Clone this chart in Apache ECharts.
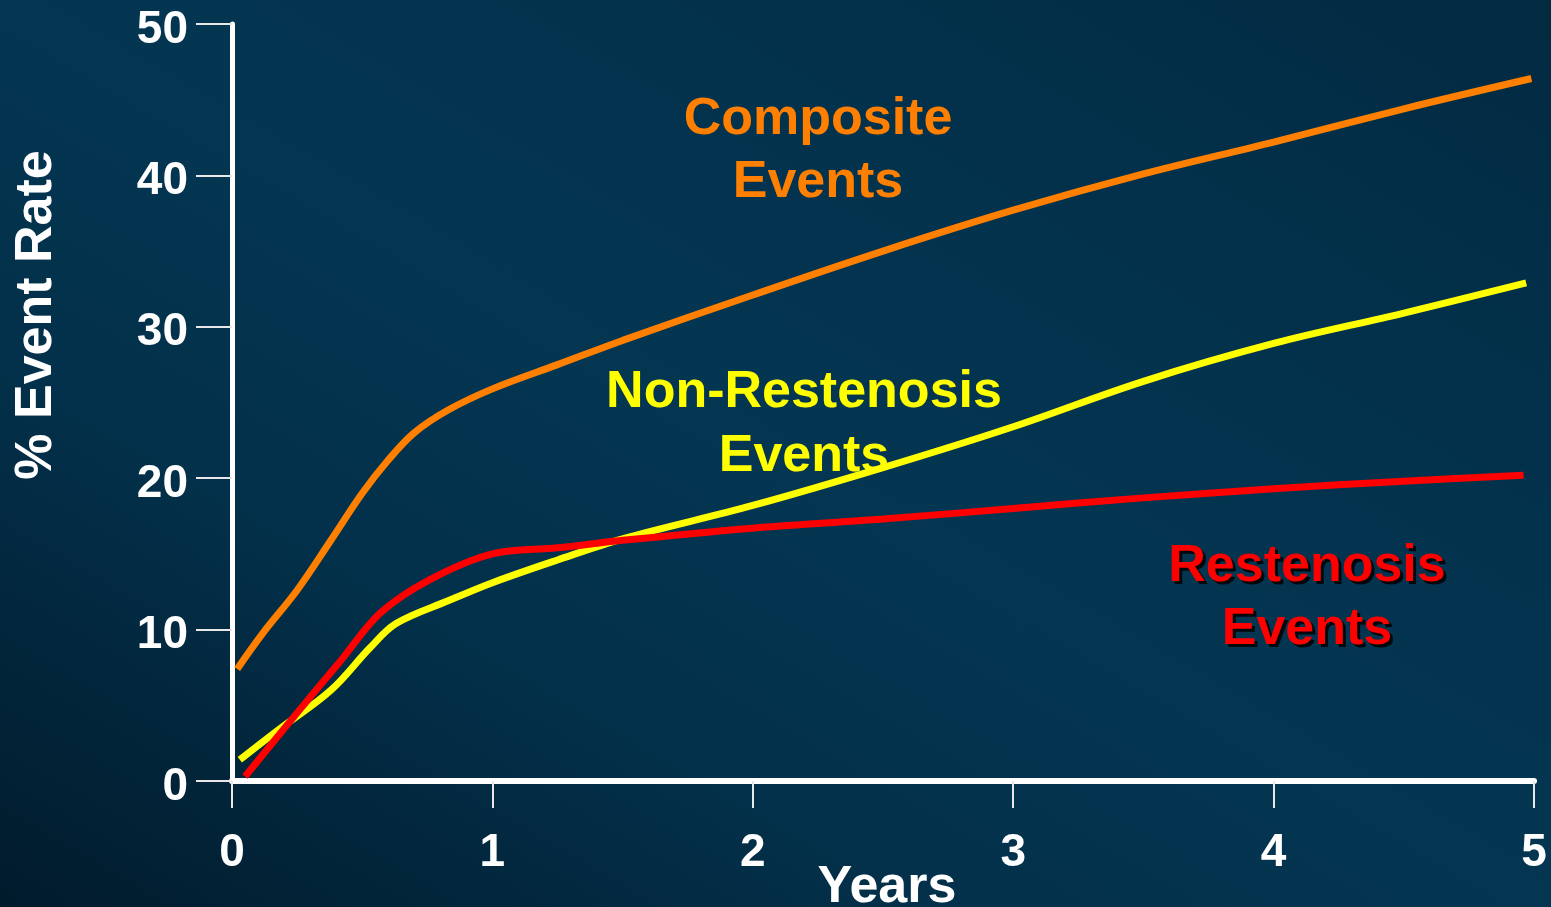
<!DOCTYPE html>
<html>
<head>
<meta charset="utf-8">
<script src="https://cdn.jsdelivr.net/npm/echarts@6/dist/echarts.min.js"></script>
<style>
  html, body { margin: 0; padding: 0; width: 100%; height: 100%; overflow: hidden; }
  #chart {
    width: 1551px; height: 907px;
    background: linear-gradient(to top right, #011b2c 0%, #03304a 30%, #043652 50%, #03324d 70%, #022a41 100%);
  }
</style>
</head>
<body>
<div id="chart"></div>
<script>
// Cumulative event rates (%) by years of follow-up
const compositeYears = [0.02, 0.12, 0.25, 0.38, 0.5, 0.6, 0.7, 0.83, 1.0, 1.25, 1.5, 2.0, 2.5, 3.0, 3.5, 4.0, 4.5, 4.99];
const compositeRate  = [7.4, 9.8, 12.6, 15.9, 19.0, 21.2, 23.0, 24.5, 25.9, 27.5, 29.1, 32.1, 35.0, 37.7, 40.1, 42.2, 44.4, 46.4];

const nonRestenosisYears = [0.03, 0.18, 0.38, 0.53, 0.63, 0.83, 1.0, 1.25, 1.5, 2.0, 2.5, 3.0, 3.5, 4.0, 4.5, 4.97];
const nonRestenosisRate  = [1.4, 3.4, 6.0, 8.8, 10.4, 11.9, 13.1, 14.6, 16.0, 18.2, 20.7, 23.4, 26.4, 28.9, 30.9, 32.9];

const restenosisYears = [0.05, 0.25, 0.42, 0.57, 0.76, 1.0, 1.25, 1.5, 2.0, 2.5, 3.0, 3.5, 4.0, 4.5, 4.96];
const restenosisRate  = [0.3, 4.5, 8.0, 11.1, 13.3, 15.0, 15.4, 15.9, 16.7, 17.3, 18.0, 18.7, 19.3, 19.8, 20.2];

const xTicks = [0, 1, 2, 3, 4, 5];
const yTicks = [0, 10, 20, 30, 40, 50];

const pairs = (xs, ys) => xs.map((x, i) => [x, ys[i]]);

const FONT = '"Liberation Sans", Arial, sans-serif';
const ORANGE = '#ff7f00';
const YELLOW = '#ffff00';
const RED = '#ff0000';

const chart = echarts.init(document.getElementById('chart'), null, { renderer: 'canvas' });

const lineSeries = (name, xs, ys, color) => ({
  name, type: 'line', smooth: 0.35, showSymbol: false, silent: true,
  data: pairs(xs, ys),
  lineStyle: { color, width: 7, cap: 'butt' }
});

chart.setOption({
  backgroundColor: 'transparent',
  animation: false,
  grid: { left: 232, top: 24, right: 17, bottom: 126, containLabel: false, outerBoundsMode: 'none' },
  xAxis: {
    type: 'value', min: xTicks[0], max: xTicks[xTicks.length - 1], interval: 1,
    offset: 5,
    name: 'Years', nameLocation: 'middle', nameGap: 76, nameMoveOverlap: false,
    nameTextStyle: { color: '#ffffff', fontFamily: FONT, fontWeight: 'bold', fontSize: 52, padding: [0, 0, 0, 8] },
    axisLine: { show: true, lineStyle: { color: '#ffffff', width: 6 } },
    axisTick: { show: true, length: 27, lineStyle: { color: '#e8e8e8', width: 2 } },
    axisLabel: { color: '#ffffff', fontFamily: FONT, fontWeight: 'bold', fontSize: 46, margin: 44,
                 formatter: v => xTicks.includes(v) ? String(v) : '' },
    splitLine: { show: false }
  },
  yAxis: {
    type: 'value', min: yTicks[0], max: yTicks[yTicks.length - 1], interval: 10,
    axisLine: { show: true, lineStyle: { color: '#ffffff', width: 5 } },
    axisTick: { show: true, length: 36, lineStyle: { color: '#e8e8e8', width: 2 } },
    // labels sit a few pixels below their ticks
    axisLabel: { color: '#ffffff', fontFamily: FONT, fontWeight: 'bold', fontSize: 46, margin: 44,
                 verticalAlign: 'top', lineHeight: 12,
                 formatter: v => yTicks.includes(v) ? String(v) : '' },
    splitLine: { show: false }
  },
  series: [
    lineSeries('Composite Events', compositeYears, compositeRate, ORANGE),
    lineSeries('Non-Restenosis Events', nonRestenosisYears, nonRestenosisRate, YELLOW),
    lineSeries('Restenosis Events', restenosisYears, restenosisRate, RED)
  ],
  graphic: [
    {
      type: 'text', x: 37, y: 315, rotation: Math.PI / 2, z: 10,
      style: { text: '% Event Rate', fill: '#ffffff', font: 'bold 52px ' + FONT, align: 'center', verticalAlign: 'middle' }
    },
    {
      type: 'text', x: 818, y: 151, z: 10,
      style: { text: 'Composite\nEvents', fill: ORANGE, font: 'bold 52px ' + FONT, lineHeight: 63, align: 'center', verticalAlign: 'middle' }
    },
    {
      type: 'text', x: 804, y: 425, z: 10,
      style: { text: 'Non-Restenosis\nEvents', fill: YELLOW, font: 'bold 52px ' + FONT, lineHeight: 64, align: 'center', verticalAlign: 'middle' }
    },
    // drop shadow under the red label
    {
      type: 'text', x: 1310, y: 601, z: 9,
      style: { text: 'Restenosis\nEvents', fill: 'rgba(0,0,0,0.85)', font: 'bold 52px ' + FONT, lineHeight: 63, align: 'center', verticalAlign: 'middle' }
    },
    {
      type: 'text', x: 1307, y: 598, z: 10,
      style: { text: 'Restenosis\nEvents', fill: RED, font: 'bold 52px ' + FONT, lineHeight: 63, align: 'center', verticalAlign: 'middle' }
    }
  ]
});
</script>
</body>
</html>
